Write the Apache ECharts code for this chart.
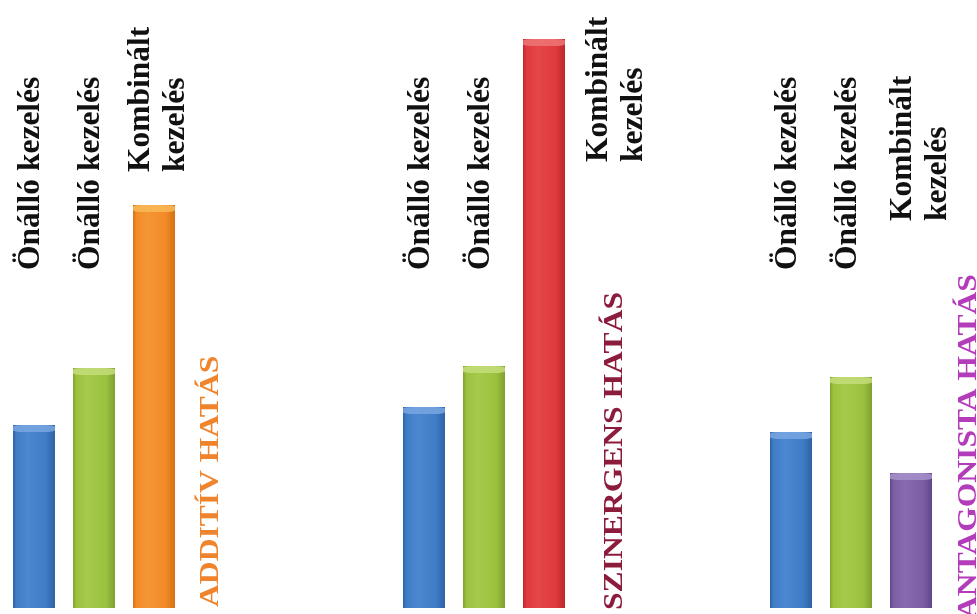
<!DOCTYPE html>
<html>
<head>
<meta charset="utf-8">
<title>Hatások</title>
<script src="https://cdn.jsdelivr.net/npm/echarts@6/dist/echarts.min.js"></script>
<style>
  html, body { margin: 0; padding: 0; background: #ffffff; }
  #chart { width: 977px; height: 614px; }
</style>
</head>
<body>
<div id="chart"></div>
<script>
// Categories and values of the three panels
const treatmentLabels = ['Önálló kezelés', 'Önálló kezelés', 'Kombinált\nkezelés'];
const effectTitles = ['ADDITÍV HATÁS', 'SZINERGENS HATÁS', 'ANTAGONISTA HATÁS'];
const additiveValues = [183, 240, 403];
const synergisticValues = [201, 242, 569];
const antagonisticValues = [176, 231, 135];
const valueMax = 600;

const groupValues = [additiveValues, synergisticValues, antagonisticValues];

// Bar colours: edge shade, body, highlight and top cap
const palette = {
  blue:   { edge: '#2f62a4', body: '#3f7cc6', light: '#4c88d0', cap: '#78a6e0' },
  green:  { edge: '#7fa12f', body: '#9bc23e', light: '#a6ca4c', cap: '#c4dd7a' },
  orange: { edge: '#d67214', body: '#f18a26', light: '#f59634', cap: '#f8b858' },
  red:    { edge: '#bb292c', body: '#df393c', light: '#e54648', cap: '#ee7676' },
  purple: { edge: '#604689', body: '#7d5ea6', light: '#886ab0', cap: '#a790c9' }
};
const groupColors = [
  ['blue', 'green', 'orange'],
  ['blue', 'green', 'red'],
  ['blue', 'green', 'purple']
];
const titleColors = ['#f0842c', '#8c1c3c', '#b23cba'];

// Panel placement
const gridLefts = [4, 394, 761];
const gridWidth = 180;
const gridTop = 8;
const gridBottom = 6;
const barWidth = 42;

// Label placement: [x shift from the bar centre, y where the text starts]
const labelPlacement = [
  [[-3, 270], [-3, 270], [4, 172]],
  [[-3, 270], [-3, 270], [72, 162]],
  [[-3, 270], [-3, 270], [9, 221]]
];
// Panel titles: [x, y where the text starts]
const titlePlacement = [[211, 607], [615, 610], [969, 619]];

function barFill(c) {
  return new echarts.graphic.LinearGradient(0, 0, 1, 0, [
    { offset: 0, color: c.edge },
    { offset: 0.08, color: c.body },
    { offset: 0.35, color: c.light },
    { offset: 0.78, color: c.body },
    { offset: 1, color: c.edge }
  ]);
}

const grids = [], xAxes = [], yAxes = [], series = [];
groupValues.forEach((vals, g) => {
  grids.push({ left: gridLefts[g], width: gridWidth, top: gridTop, bottom: gridBottom });
  xAxes.push({ type: 'category', gridIndex: g, data: treatmentLabels, show: false });
  yAxes.push({ type: 'value', gridIndex: g, min: 0, max: valueMax, show: false });
  series.push({
    type: 'bar',
    name: effectTitles[g],
    xAxisIndex: g,
    yAxisIndex: g,
    barWidth: barWidth,
    data: vals.map((v, i) => ({
      value: v,
      itemStyle: {
        color: barFill(palette[groupColors[g][i]]),
        shadowColor: 'rgba(0,0,0,0.18)',
        shadowBlur: 4,
        shadowOffsetX: 1
      }
    }))
  });
  // lighter band on top of each bar
  series.push({
    type: 'pictorialBar',
    xAxisIndex: g,
    yAxisIndex: g,
    symbol: 'roundRect',
    symbolSize: [barWidth, 7],
    symbolPosition: 'end',
    z: 3,
    silent: true,
    data: vals.map((v, i) => ({
      value: v,
      itemStyle: { color: palette[groupColors[g][i]].cap, opacity: 0.85 }
    }))
  });
});

const chart = echarts.init(document.getElementById('chart'), null, { renderer: 'canvas' });
chart.setOption({
  animation: false,
  backgroundColor: '#ffffff',
  grid: grids,
  xAxis: xAxes,
  yAxis: yAxes,
  series: series
});

// Rotated category labels and panel titles, anchored on the bar positions
const texts = [];
groupValues.forEach((vals, g) => {
  treatmentLabels.forEach((label, i) => {
    const cx = chart.convertToPixel({ xAxisIndex: g }, i);
    const [dx, y] = labelPlacement[g][i];
    texts.push({
      type: 'text',
      x: cx + dx,
      y: y,
      rotation: Math.PI / 2,
      silent: true,
      style: {
        text: label,
        fontFamily: '"Liberation Serif", "Times New Roman", serif',
        fontWeight: 'bold',
        fontSize: 31.5,
        lineHeight: 35,
        fill: '#111111',
        align: 'left',
        verticalAlign: 'middle'
      }
    });
  });
  texts.push({
    type: 'text',
    x: titlePlacement[g][0],
    y: titlePlacement[g][1],
    rotation: Math.PI / 2,
    scaleX: 1.17,
    silent: true,
    style: {
      text: effectTitles[g],
      fontFamily: '"Liberation Serif", "Times New Roman", serif',
      fontWeight: 'bold',
      fontSize: 27,
      fill: titleColors[g],
      align: 'left',
      verticalAlign: 'middle'
    }
  });
});
chart.setOption({ graphic: texts });
</script>
</body>
</html>
